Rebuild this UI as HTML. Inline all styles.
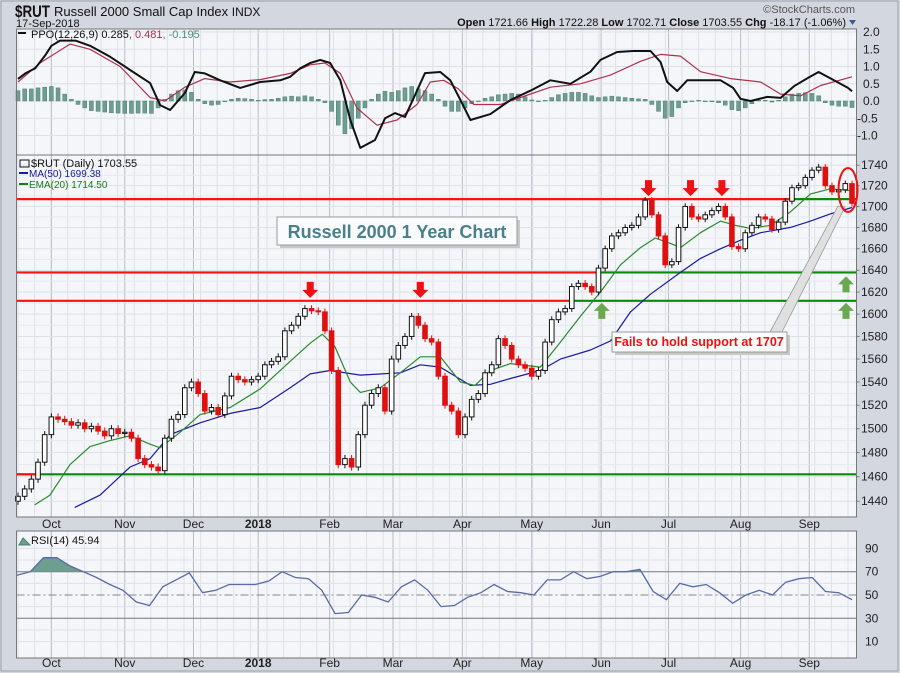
<!DOCTYPE html>
<html><head><meta charset="utf-8"><style>
body{margin:0;background:#d3d7df;}
svg{display:block;font-family:"Liberation Sans",sans-serif;}
</style></head><body>
<svg id="c" width="900" height="673" viewBox="0 0 900 673" xmlns="http://www.w3.org/2000/svg">
<rect x="0" y="0" width="900" height="673" fill="#d3d7df"/>
<rect x="1" y="1" width="897" height="670" fill="none" stroke="#9aa0aa"/>
<text x="15" y="17" font-size="17" font-weight="bold" fill="#111" textLength="35" lengthAdjust="spacingAndGlyphs">$RUT</text>
<text x="54" y="16" font-size="13" fill="#111">Russell 2000 Small Cap Index <tspan font-size="12">INDX</tspan></text>
<text x="16" y="27" font-size="11" fill="#111">17-Sep-2018</text>
<text x="855" y="13" font-size="11" fill="#555" text-anchor="end">©StockCharts.com</text>
<text x="846" y="26" font-size="11" fill="#111" text-anchor="end"><tspan font-weight="bold">Open</tspan> 1721.66 <tspan font-weight="bold">High</tspan> 1722.28 <tspan font-weight="bold">Low</tspan> 1702.71 <tspan font-weight="bold">Close</tspan> 1703.55 <tspan font-weight="bold">Chg</tspan> -18.17 (-1.06%)</text>
<path d="M849 20 L856 20 L852.5 25 Z" fill="#3a5a9a"/>
<g id="g"></g>
</svg>
<script>
// ---- data ----
const months=["Oct","Nov","Dec","2018","Feb","Mar","Apr","May","Jun","Jul","Aug","Sep"];
const monthIdx=[5,16,26.3,36,46.7,56.2,66.6,77,87.4,97.5,108.3,118.6];
const closes=[1444,1450,1458,1472,1495,1510,1508,1506,1503,1505,1500,1502,1498,1494,1500,1496,1497,1492,1475,1470,1468,1465,1492,1508,1512,1535,1540,1530,1515,1518,1512,1528,1545,1542,1540,1542,1545,1555,1558,1562,1585,1590,1598,1605,1603,1602,1585,1550,1470,1475,1468,1495,1520,1530,1535,1515,1560,1572,1580,1598,1590,1578,1575,1545,1520,1515,1495,1510,1525,1530,1548,1555,1578,1572,1560,1555,1552,1545,1550,1575,1595,1602,1605,1625,1628,1625,1620,1642,1660,1672,1675,1680,1682,1690,1706,1692,1672,1645,1648,1680,1700,1690,1688,1692,1696,1700,1690,1662,1660,1675,1682,1690,1688,1678,1685,1705,1718,1720,1728,1735,1738,1720,1714,1716,1722,1703];
const ma50Idx=[8.5,12.3,16.8,19.8,22.8,27.3,31.8,36.3,40.8,43.8,46.8,51.3,57.3,60.3,63.3,67.8,70.8,73.8,78.3,81.3,85.8,88.8,91.8,94.8,99.3,102.3,105.3,108.3,111.3,115.8,118.8,121.8,125];
const ma50=[1435,1445,1468,1475,1495,1505,1513,1518,1535,1547,1550,1546,1548,1555,1553,1537,1538,1543,1550,1560,1568,1576,1602,1618,1638,1651,1660,1668,1675,1680,1686,1693,1699];
const emaIdx=[2.5,4.8,7.8,10.8,13.8,16.8,19.8,21.3,24.3,27.3,31.8,36.3,40.8,43.8,45.6,47.5,49.8,51.3,54.3,57.3,60.3,63.3,66.3,68.5,70.8,73.8,78.3,81.3,84.3,87.3,90.3,93.3,95.5,97.8,99.3,102.3,105.3,107.5,109.8,112.8,115.8,118.8,121.8,125];
const ema20=[1437,1445,1470,1485,1490,1494,1487,1484,1497,1512,1518,1534,1558,1574,1582,1571,1540,1531,1535,1548,1562,1562,1540,1537,1550,1556,1553,1575,1598,1620,1645,1661,1670,1665,1661,1675,1686,1682,1679,1682,1695,1712,1717,1715];
const ppoIdx=[0,1.1,2.6,4.1,5,6.3,8.6,10.8,13.8,16.8,19.8,21.3,22.8,25,26.5,28,30.3,33.3,36.3,39.3,40.8,42.3,43.8,45.3,46.8,48.3,49.8,51.3,53.5,55,56.5,58,59.5,61,63.3,64.8,66.3,67.8,70.8,73.8,76.8,79.8,82.8,85.8,87.3,89.8,92.2,94.8,96.3,97.3,98.8,100.3,102.3,105.3,107.2,108.3,109.8,112.3,114.3,116.3,118.4,120,122.3,124.4,125];
const ppo=[0.64,0.8,0.95,1.33,1.6,1.75,1.75,1.6,1.28,0.9,0.52,-0.12,-0.26,0.23,0.84,0.8,0.6,0.38,0.55,0.6,0.7,0.95,1.1,1.19,1.1,0.6,-0.55,-1.36,-1.13,-0.5,-0.35,-0.46,0.17,0.81,0.84,0.6,0.03,-0.55,-0.38,0.03,0.3,0.6,0.5,0.85,1.19,1.42,1.45,1.45,1.13,0.55,0.29,0.6,0.6,0.6,0.38,0.06,0,0.12,0.09,0.43,0.67,0.84,0.6,0.38,0.28];
const sigIdx=[0,3.3,7.8,10.8,15.3,19.8,22,25,28,31.8,36.3,40.8,43.8,46,48.3,50.8,53.8,56.8,59.8,61.8,63.8,66,68.3,72.3,75.3,79.8,84.3,88.8,93.3,96.3,99.3,102.3,106.8,111.3,114.3,117.3,120.3,125];
const signal=[0.55,1.1,1.65,1.5,1.0,0.1,0,0.4,0.65,0.55,0.62,0.8,1.05,1.1,0.8,-0.2,-0.7,-0.55,-0.1,0.55,0.6,0.35,-0.1,-0.1,0.1,0.4,0.5,0.75,1.15,1.35,1.3,0.85,0.65,0.55,0.2,0.15,0.45,0.7,0.48];
const hist=[0.3,0.35,0.35,0.38,0.4,0.42,0.38,0.2,0.05,-0.1,-0.2,-0.28,-0.3,-0.32,-0.34,-0.35,-0.36,-0.36,-0.35,-0.35,-0.36,-0.2,0.05,0.2,0.3,0.32,0.25,0.05,-0.08,-0.12,-0.1,-0.02,0.05,0.08,0.07,0.05,0.02,0.04,0.05,0.08,0.12,0.14,0.12,0.15,0.12,0.05,-0.05,-0.3,-0.7,-0.95,-0.8,-0.5,-0.2,0.05,0.2,0.28,0.25,0.3,0.38,0.42,0.35,0.3,0.2,0.05,-0.15,-0.3,-0.3,-0.2,-0.08,0,0.08,0.12,0.18,0.2,0.22,0.2,0.12,0.03,-0.02,0.02,0.1,0.18,0.22,0.25,0.25,0.22,0.15,0.1,0.12,0.14,0.12,0.1,0.08,0.06,0.05,-0.1,-0.3,-0.5,-0.45,-0.2,-0.05,0,0.02,-0.02,-0.02,-0.05,-0.12,-0.25,-0.28,-0.2,-0.08,0.02,0.02,-0.03,0.02,0.12,0.2,0.22,0.24,0.22,0.15,-0.05,-0.12,-0.15,-0.15,-0.19];
const rsi=[67,70,82,82,75,70,65,59,54,44,41,57,63,69,52,54,59,59,59,62,70,65,64,54,34,35,50,48,44,57,63,54,40,41,48,52,59,53,52,50,63,63,70,64,66,70,70,72,53,46,60,57,59,52,43,50,54,50,61,64,65,53,52,46];
const priceTicks=[1740,1720,1700,1680,1660,1640,1620,1600,1580,1560,1540,1520,1500,1480,1460,1440];
const ppoTicks=[2.0,1.5,1.0,0.5,0.0,-0.5,-1.0];
const rsiTicks=[90,70,50,30,10];
const resistLevels=[1707,1638,1612];
const supportLevels=[1462];
const downArrowIdx=[43.8,60.3,94.5,100.8,105.5];
const downArrowLevel=[1612,1612,1707,1707,1707];
const upArrowIdx=[87.5];

// ---- geometry ----
const L=16.5,R=856.5,N=closes.length;
const X=i=>18+i*(852-18)/(N-1);
const Y=p=>13417-1776*Math.log(p);
const PY=v=>101-v*34.5;
const RY=v=>595-(v-50)*1.165;
const NS="http://www.w3.org/2000/svg";
const g=document.getElementById('g');
function el(tag,attrs,parent){const e=document.createElementNS(NS,tag);for(const k in attrs)e.setAttribute(k,attrs[k]);(parent||g).appendChild(e);return e;}
function txt(s,attrs,parent){const e=el('text',attrs,parent);e.textContent=s;return e;}

const panels=[[29,155],[155,517],[531,658]];
panels.forEach((p,k)=>{
  const r=el('rect',{x:L,y:p[0],width:R-L,height:p[1]-p[0],fill:'#f4f6fa'});
  
  
  for(let x=L+1.5;x<R;x+=16.6) el('line',{x1:x,x2:x,y1:p[0],y2:p[1],stroke:'#dde1e8','stroke-width':1});
  monthIdx.forEach(mi=>el('line',{x1:X(mi),x2:X(mi),y1:p[0],y2:p[1],stroke:'#b9bdc6','stroke-width':1}));
});
priceTicks.forEach(t=>{el('line',{x1:L,x2:R,y1:Y(t),y2:Y(t),stroke:'#dde1e8'});
  const e=txt(t,{x:861,y:Y(t)+4,'font-size':12,fill:'#222'});
  el('line',{x1:R,x2:R+3,y1:Y(t),y2:Y(t),stroke:'#777'});});
for(let p=1450;p<1745;p+=20) el('line',{x1:L,x2:R,y1:Y(p),y2:Y(p),stroke:'#e6e9ee'});
ppoTicks.forEach(t=>{el('line',{x1:L,x2:R,y1:PY(t),y2:PY(t),stroke:'#dde1e8'});
  const e=txt(t.toFixed(1),{x:t<0?857:863,y:PY(t)+4,'font-size':12,fill:'#222'});});
[80,60,40,20].forEach(t=>el('line',{x1:L,x2:R,y1:RY(t),y2:RY(t),stroke:'#dde1e8'}));
rsiTicks.forEach(t=>{
  if(t===70||t===30) el('line',{x1:L,x2:R,y1:RY(t),y2:RY(t),stroke:'#777'});
  else if(t===50) el('line',{x1:L,x2:R,y1:RY(t),y2:RY(t),stroke:'#888','stroke-dasharray':'8 3 2 3'});
  else el('line',{x1:L,x2:R,y1:RY(t),y2:RY(t),stroke:'#dde1e8'});
  const e=txt(t,{x:865,y:RY(t)+4,'font-size':12,fill:'#222'});});

[528,667].forEach(yy=>monthIdx.forEach((mi,k)=>{
  const e=txt(months[k],{x:X(mi),y:yy,'font-size':12,'text-anchor':'middle',fill:'#222','font-weight':months[k]==='2018'?'bold':'normal'});
  }));

hist.forEach((v,i)=>{const y0=PY(0),y1=PY(v);
  const r=el('rect',{x:X(i)-2,y:Math.min(y0,y1),width:4,height:Math.max(0.6,Math.abs(y1-y0)),fill:'#6e9e90',stroke:'#4f7f72','stroke-width':0.5});
  });
function line(idx,vals,fy,col,w,name){
  const d=vals.map((v,k)=>(k?'L':'M')+X(idx[k]).toFixed(1)+' '+fy(v).toFixed(1)).join(' ');
  const p=el('path',{d:d,fill:'none',stroke:col,'stroke-width':w,'stroke-linejoin':'round'});
  return p;}
line(sigIdx,signal,PY,'#b0304a',1.2,'ppo-signal-line');
line(ppoIdx,ppo,PY,'#111',2,'ppo-line');

resistLevels.forEach((lv,k)=>{
  const gx=[790,600,568][k];
  const a=el('line',{x1:L,x2:gx,y1:Y(lv),y2:Y(lv),stroke:'#ff1010','stroke-width':2.2});
  
  const b=el('line',{x1:gx,x2:k===0?852:R,y1:Y(lv),y2:Y(lv),stroke:'#0a8a0a','stroke-width':2.2});
  
  if(k===0){el('line',{x1:852,x2:R,y1:Y(lv),y2:Y(lv),stroke:'#ff1010','stroke-width':2.2});}
});
supportLevels.forEach(lv=>{
  const a=el('line',{x1:L,x2:R,y1:Y(lv),y2:Y(lv),stroke:'#0a8a0a','stroke-width':2.2});
  
  el('line',{x1:L,x2:40,y1:Y(lv),y2:Y(lv),stroke:'#ff1010','stroke-width':2.2});});

line(ma50Idx,ma50,Y,'#1a1aa0',1.2,'ma50-line');
line(emaIdx,ema20,Y,'#2a8a2a',1.2,'ema20-line');

closes.forEach((c,i)=>{
  const o=i?closes[i-1]:c-4, up=c>=o;
  const hi=Math.max(o,c)+3, lo=Math.min(o,c)-3, x=X(i);
  const col=up?'#111':'#e01010';
  const w=el('line',{x1:x,x2:x,y1:Y(hi),y2:Y(lo),stroke:col,'stroke-width':1});
  
  const top=Y(Math.max(o,c)),bot=Y(Math.min(o,c));
  const b=el('rect',{x:x-2.3,y:top,width:4.6,height:Math.max(1,bot-top),fill:up?'#fff':'#e01010',stroke:col,'stroke-width':1});
  
});

downArrowIdx.forEach((i,k)=>{const x=X(i),y=Y(downArrowLevel[k])-3;
  const a=el('path',{d:`M${x-3.5} ${y-16} h7 v8 h4.5 L${x} ${y} L${x-8} ${y-8} h4.5 Z`,fill:'#ee1111'});
  });
function upArrow(x,y){const a=el('path',{d:`M${x} ${y} L${x+8} ${y+8} h-4.5 v8 h-7 v-8 h-4.5 Z`,fill:'#6aa84f'});
  }
upArrowIdx.forEach(i=>upArrow(X(i),Y(1612)+2));
upArrow(846,Y(1638)+4);upArrow(846,Y(1612)+2);

const rX=k=>17+k*(852-17)/(rsi.length-1);
const rp=rsi.map((v,k)=>(k?'L':'M')+rX(k).toFixed(1)+' '+RY(v).toFixed(1)).join(' ');
const cpath=el('clipPath',{id:'ob'});
el('rect',{x:L,y:531,width:R-L,height:RY(70)-531},cpath);
const f=el('path',{d:rp+` L${rX(rsi.length-1)} ${RY(70)} L${rX(0)} ${RY(70)} Z`,fill:'#6e9e90','clip-path':'url(#ob)'});

const rl=el('path',{d:rp,fill:'none',stroke:'#5a6aa8','stroke-width':1.3});


panels.forEach(p=>el('rect',{x:L,y:p[0],width:R-L,height:p[1]-p[0],fill:'none',stroke:'#777','stroke-width':1}));

let e;
el('rect',{x:18,y:32,width:8,height:2,fill:'#111'});
e=el('text',{x:31,y:38,'font-size':11,fill:'#111'});
e.innerHTML='PPO(12,26,9) 0.285<tspan fill="#b0304a">, 0.481</tspan><tspan fill="#4f8f80">, -0.195</tspan>';

e=txt('$RUT (Daily) 1703.55',{x:31,y:167,'font-size':11,fill:'#111'});
el('rect',{x:20,y:160,width:9,height:7,fill:'none',stroke:'#111'});
el('rect',{x:19,y:172,width:9,height:2,fill:'#1a1aa0'});
e=txt('MA(50) 1699.38',{x:29,y:177,'font-size':10,fill:'#1a1aa0'});
el('rect',{x:19,y:183,width:9,height:2,fill:'#1a7a1a'});
e=txt('EMA(20) 1714.50',{x:29,y:188,'font-size':10,fill:'#1a7a1a'});
el('path',{d:'M19 545 L23 538 L26 541 L30 545 Z',fill:'#6e9e90',stroke:'#4f7f72'});
e=txt('RSI(14) 45.94',{x:31,y:544,'font-size':11,fill:'#111'});

el('rect',{x:280,y:220,width:240,height:28,fill:'#c8c8c8'});
e=el('rect',{x:277,y:217,width:240,height:28,fill:'#fafbfc',stroke:'#999'});
e=txt('Russell 2000 1 Year Chart',{x:397,y:238,'font-size':18,'font-weight':'bold',fill:'#4a7f8c','text-anchor':'middle'});
el('path',{d:'M782 332 L845 207 L838 206 L770 332 Z',fill:'#e0e0e0',stroke:'#999','stroke-width':0.8});
el('rect',{x:615,y:335,width:175,height:20,fill:'#c8c8c8'});
e=el('rect',{x:612,y:332,width:175,height:20,fill:'#fafbfc',stroke:'#999'});
e=txt('Fails to hold support at 1707',{x:699,y:346,'font-size':12.5,'font-weight':'bold',fill:'#ee1111','text-anchor':'middle'});
e=el('ellipse',{cx:848,cy:190,rx:9.5,ry:22,fill:'none',stroke:'#ee1111','stroke-width':2});
</script>
</body></html>
